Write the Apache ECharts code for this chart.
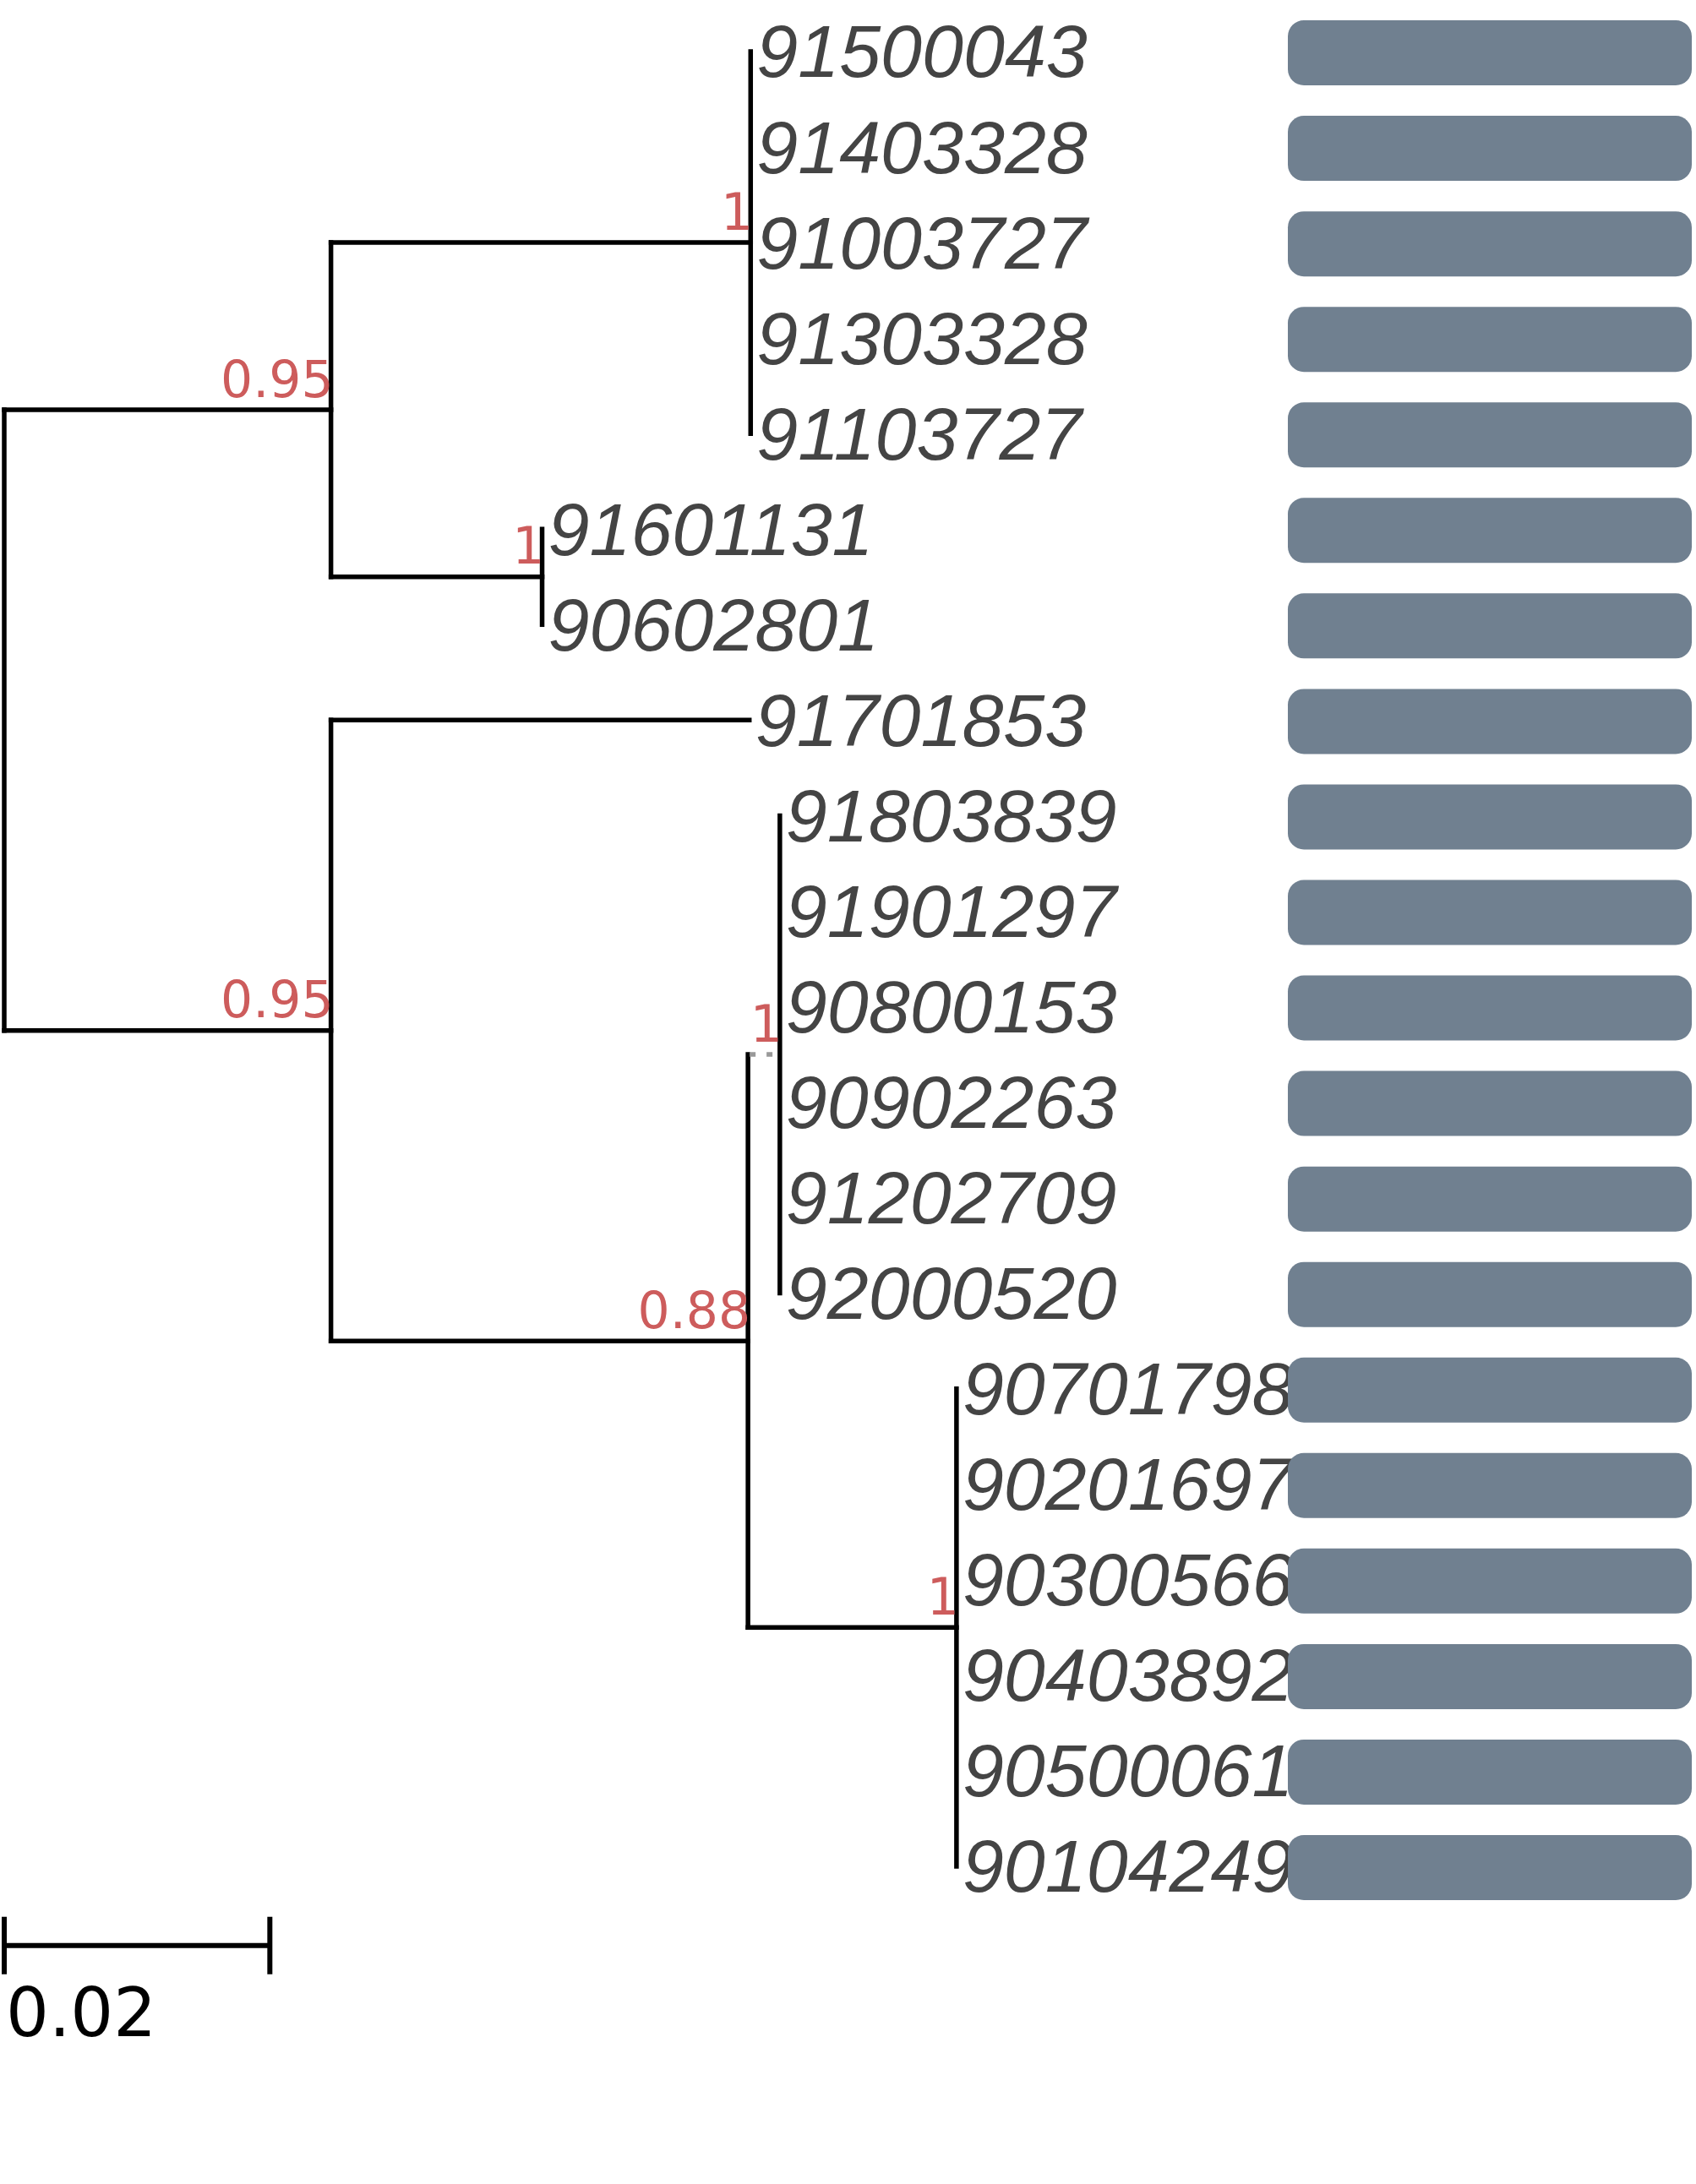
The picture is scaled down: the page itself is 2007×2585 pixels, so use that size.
<!DOCTYPE html>
<html>
<head>
<meta charset="utf-8">
<script src="https://cdn.jsdelivr.net/npm/echarts@6/dist/echarts.min.js"></script>
<style>
  html, body { margin: 0; padding: 0; background: #fff; }
  #main { width: 2007px; height: 2585px; }
</style>
</head>
<body>
<div id="main"></div>
<script>
// leaves, top to bottom
const leafNames = ['91500043', '91403328', '91003727', '91303328', '91103727',
  '91601131', '90602801', '91701853',
  '91803839', '91901297', '90800153', '90902263', '91202709', '92000520',
  '90701798', '90201697', '90300566', '90403892', '90500061', '90104249'];
const leafParent = ['A1', 'A1', 'A1', 'A1', 'A1', 'A2', 'A2', 'B',
  'B2a', 'B2a', 'B2a', 'B2a', 'B2a', 'B2a',
  'B2b', 'B2b', 'B2b', 'B2b', 'B2b', 'B2b'];
const leafLength = [0, 0, 0, 0, 0, 0, 0, 0.0315,
  0, 0, 0, 0, 0, 0,
  0, 0, 0, 0, 0, 0];

// internal nodes (parents before children)
const cladeIds = ['root', 'A', 'A1', 'A2', 'B', 'B2', 'B2a', 'B2b'];
const cladeParent = [null, 'root', 'A', 'A', 'root', 'B', 'B2', 'B2'];
const cladeLength = [0, 0.0246, 0.0316, 0.0159, 0.0246, 0.0314, 0.0024, 0.0157];
const cladeSupport = ['', '0.95', '1', '1', '0.95', '0.88', '1', '1'];

const scaleBarLength = 0.02;
const barValues = [1, 1, 1, 1, 1, 1, 1, 1, 1, 1, 1, 1, 1, 1, 1, 1, 1, 1, 1, 1];

const dottedClade = 'B2a';   // very short branch drawn dotted
const scaleBarRow = 19.83;

// --- layout
const cx = {}, cy = {};
cladeIds.forEach((id, i) => {
  cx[id] = cladeParent[i] ? cx[cladeParent[i]] + cladeLength[i] : 0;
});
const leafX = leafNames.map((n, i) => cx[leafParent[i]] + leafLength[i]);
const span = {};
cladeIds.forEach(id => span[id] = [Infinity, -Infinity]);
function addSpan(id, y) {
  span[id][0] = Math.min(span[id][0], y);
  span[id][1] = Math.max(span[id][1], y);
}
leafNames.forEach((n, i) => addSpan(leafParent[i], i));
for (let i = cladeIds.length - 1; i >= 0; i--) {
  const id = cladeIds[i];
  cy[id] = (span[id][0] + span[id][1]) / 2;
  if (cladeParent[i]) addSpan(cladeParent[i], cy[id]);
}

const segments = [];
cladeIds.forEach((id, i) => {
  if (cladeParent[i]) {
    segments.push([cx[cladeParent[i]], cy[id], cx[id], cy[id], id === dottedClade ? 1 : 0]);
  }
  segments.push([cx[id], span[id][0], cx[id], span[id][1], 0]);
});
leafNames.forEach((n, i) => {
  if (leafLength[i] > 0) segments.push([cx[leafParent[i]], i, leafX[i], i, 0]);
});

const leafData = leafNames.map((n, i) => [leafX[i], i, n]);
const supportData = cladeIds
  .map((id, i) => [cx[id], cy[id], cladeSupport[i]])
  .filter(d => d[2] !== '');

const chart = echarts.init(document.getElementById('main'), null, { renderer: 'canvas' });

const hidden = { show: false };
chart.setOption({
  animation: false,
  backgroundColor: '#fff',
  grid: [
    { left: 5, top: 61, width: 1886, height: 2374 },
    { left: 1524, top: 6, width: 478, height: 2261 }
  ],
  xAxis: [
    { type: 'value', gridIndex: 0, min: 0, max: 0.12, axisLine: hidden, axisTick: hidden, axisLabel: hidden, splitLine: hidden },
    { type: 'value', gridIndex: 1, min: 0, max: 1, axisLine: hidden, axisTick: hidden, axisLabel: hidden, splitLine: hidden }
  ],
  yAxis: [
    { type: 'value', gridIndex: 0, min: 0, max: 21, inverse: true, axisLine: hidden, axisTick: hidden, axisLabel: hidden, splitLine: hidden },
    { type: 'category', gridIndex: 1, data: leafNames, inverse: true, axisLine: hidden, axisTick: hidden, axisLabel: hidden, splitLine: hidden }
  ],
  series: [
    {
      type: 'custom',
      name: 'branches',
      xAxisIndex: 0, yAxisIndex: 0,
      data: segments,
      renderItem(params, api) {
        const a = api.coord([api.value(0), api.value(1)]);
        const b = api.coord([api.value(2), api.value(3)]);
        const dotted = api.value(4) === 1;
        return {
          type: 'line',
          shape: { x1: a[0], y1: a[1], x2: b[0], y2: b[1] },
          style: dotted
            ? { stroke: '#999', lineWidth: 5.5, lineDash: [7, 13], lineDashOffset: -2 }
            : { stroke: '#000', lineWidth: 5.5, lineCap: 'square' }
        };
      }
    },
    {
      type: 'custom',
      name: 'tips',
      xAxisIndex: 0, yAxisIndex: 0,
      data: leafData,
      renderItem(params, api) {
        const p = api.coord([api.value(0), api.value(1)]);
        return {
          type: 'text',
          style: {
            text: leafData[params.dataIndex][2],
            x: p[0] + 7, y: p[1] + 6,
            fill: '#444',
            fontSize: 88, fontStyle: 'italic', fontFamily: 'Liberation Sans',
            align: 'left', verticalAlign: 'middle'
          }
        };
      }
    },
    {
      type: 'custom',
      name: 'support',
      xAxisIndex: 0, yAxisIndex: 0,
      data: supportData,
      renderItem(params, api) {
        const p = api.coord([api.value(0), api.value(1)]);
        return {
          type: 'text',
          style: {
            text: supportData[params.dataIndex][2],
            x: p[0] + 3, y: p[1] - 31,
            fill: '#cd5c5c',
            fontSize: 60, fontFamily: 'DejaVu Sans',
            align: 'right', verticalAlign: 'middle'
          }
        };
      }
    },
    {
      type: 'custom',
      name: 'scale',
      xAxisIndex: 0, yAxisIndex: 0,
      data: [[0, scaleBarLength, scaleBarRow]],
      renderItem(params, api) {
        const a = api.coord([api.value(0), api.value(2)]);
        const b = api.coord([api.value(1), api.value(2)]);
        const st = { stroke: '#000', lineWidth: 6 };
        return {
          type: 'group',
          children: [
            { type: 'line', shape: { x1: a[0], y1: a[1], x2: b[0], y2: b[1] }, style: st },
            { type: 'line', shape: { x1: a[0], y1: a[1] - 34, x2: a[0], y2: a[1] + 34 }, style: st },
            { type: 'line', shape: { x1: b[0], y1: b[1] - 34, x2: b[0], y2: b[1] + 34 }, style: st },
            {
              type: 'text',
              style: {
                text: String(scaleBarLength),
                x: a[0] + 2, y: a[1] + 86,
                fill: '#000', fontSize: 80, fontFamily: 'DejaVu Sans',
                align: 'left', verticalAlign: 'middle'
              }
            }
          ]
        };
      }
    },
    {
      type: 'bar',
      name: 'bars',
      xAxisIndex: 1, yAxisIndex: 1,
      data: barValues,
      barWidth: 77,
      itemStyle: { color: '#708090', borderRadius: 19 },
      silent: true
    }
  ]
});
</script>
</body>
</html>
